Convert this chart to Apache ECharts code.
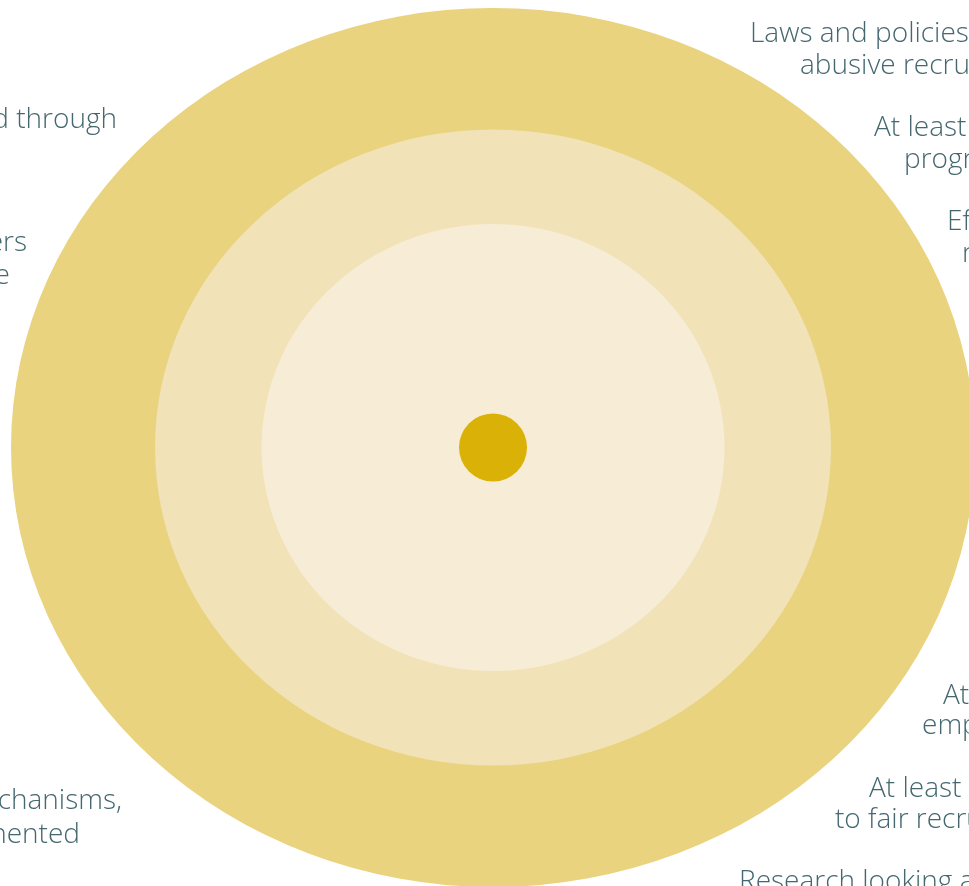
<!DOCTYPE html>
<html>
<head>
<meta charset="utf-8">
<script src="https://cdn.jsdelivr.net/npm/echarts@6/dist/echarts.min.js"></script>
<style>
html,body{margin:0;padding:0;background:#ffffff;}
#chart{width:969px;height:886px;}
</style>
</head>
<body>
<div id="chart"></div>
<script>
// ---- data ----
var ringNames = ['Outer ring', 'Middle ring', 'Inner ring', 'Core'];
var ringRadiusX = [482, 338, 231.5, 34];
var ringRadiusY = [439.5, 318, 223.5, 34];

var rightLabels = [
  'Laws and policies to prohibit',
  'abusive recruitment practices',
  'At least',
  'programmes',
  'Effective',
  'recruitment',
  'At least',
  'employers',
  'At least',
  'to fair recruitment',
  'Research looking at'
];
var leftLabels = [
  'd through',
  'ers',
  'e',
  'chanisms,',
  'nented'
];

// ---- layout / style (kept separate from data) ----
var ringColors = ['#E9D37E', '#F1E2B7', '#F7ECD5', '#DAB107'];
var rightPos = [[750,34],[800,66],[874,128],[904,160],[947,222],[962,254],[943,696],[922,726],[869,789],[835,820],[739,882]];
var leftPos = [[117,120],[27,243],[10,276],[122,801],[80,835]];
var textColor = '#456870';
var textFont = '"Open Sans", Lato, sans-serif';
var textSize = 28;

var chart = echarts.init(document.getElementById('chart'), null, {renderer: 'canvas'});

var ringData = ringNames.map(function (n, i) {
  return {name: n, value: [0, 0, ringRadiusX[i], ringRadiusY[i]]};
});

var graphics = [];
rightLabels.forEach(function (t, i) {
  graphics.push({
    type: 'text', x: rightPos[i][0], y: rightPos[i][1], silent: true, z: 10,
    style: {text: t, fill: textColor, font: '300 ' + textSize + 'px ' + textFont, align: 'left', verticalAlign: 'middle'}
  });
});
leftLabels.forEach(function (t, i) {
  graphics.push({
    type: 'text', x: leftPos[i][0], y: leftPos[i][1], silent: true, z: 10,
    style: {text: t, fill: textColor, font: '300 ' + textSize + 'px ' + textFont, align: 'right', verticalAlign: 'middle'}
  });
});

chart.setOption({
  animation: false,
  backgroundColor: '#ffffff',
  grid: {left: 0, right: 0, top: 0, bottom: 0},
  xAxis: {type: 'value', min: -493, max: 476, show: false},
  yAxis: {type: 'value', min: -438.5, max: 447.5, show: false},
  graphic: graphics,
  series: [{
    type: 'custom',
    silent: true,
    data: ringData,
    renderItem: function (params, api) {
      var c = api.coord([api.value(0), api.value(1)]);
      var rx = api.size([api.value(2), 0])[0];
      var ry = api.size([0, api.value(3)])[1];
      return {
        type: 'circle',
        x: c[0], y: c[1],
        scaleX: 1, scaleY: ry / rx,
        shape: {cx: 0, cy: 0, r: rx},
        style: {fill: ringColors[params.dataIndex]}
      };
    }
  }]
});
</script>
</body>
</html>
